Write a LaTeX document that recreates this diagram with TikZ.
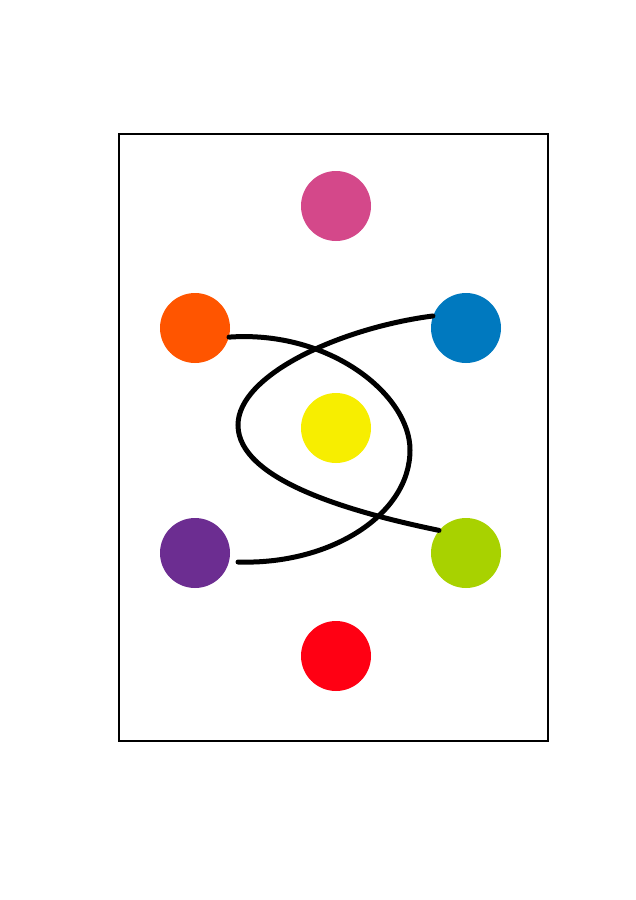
\documentclass[tikz,border=0pt]{standalone}
\begin{document}
\begin{tikzpicture}[x=1pt,y=-1pt,
  dot/.style={circle,draw=none,minimum size=70pt,inner sep=0pt},
  frame/.style={draw=black,line width=2.8pt},
  link/.style={draw=black,line width=5pt,line cap=round}]
\definecolor{cpink}{HTML}{D4488A}
\definecolor{corange}{HTML}{FF5500}
\definecolor{cblue}{HTML}{0079BF}
\definecolor{cyellow}{HTML}{F7EE00}
\definecolor{cpurple}{HTML}{6C2D91}
\definecolor{cgreen}{HTML}{A8D200}
\definecolor{cred}{HTML}{FF0013}
\useasboundingbox (0,0) rectangle (636,900);
\fill[white] (0,0) rectangle (636,900);
\node[frame,minimum width=429pt,minimum height=607pt,inner sep=0pt] (box) at (333.5,437.5) {};
\node[dot,fill=cpink] (pk) at (336,206) {};
\node[dot,fill=corange] (or) at (195,328) {};
\node[dot,fill=cblue] (bl) at (466,328) {};
\node[dot,fill=cyellow] (ye) at (336,428) {};
\node[dot,fill=cpurple] (pu) at (195,553) {};
\node[dot,fill=cgreen] (gr) at (466,553) {};
\node[dot,fill=cred] (rd) at (336,656) {};
\coordinate (puend) at (238,562);
\path[link] (or.-15) .. controls (330,330) and (410,395) .. (410,450)
  .. controls (410,515) and (330,565) .. (puend);
\path[link] (bl.160) .. controls (340,328) and (238,375) .. (238,425)
  .. controls (238,480) and (350,512) .. (gr.140);
\end{tikzpicture}
\end{document}
